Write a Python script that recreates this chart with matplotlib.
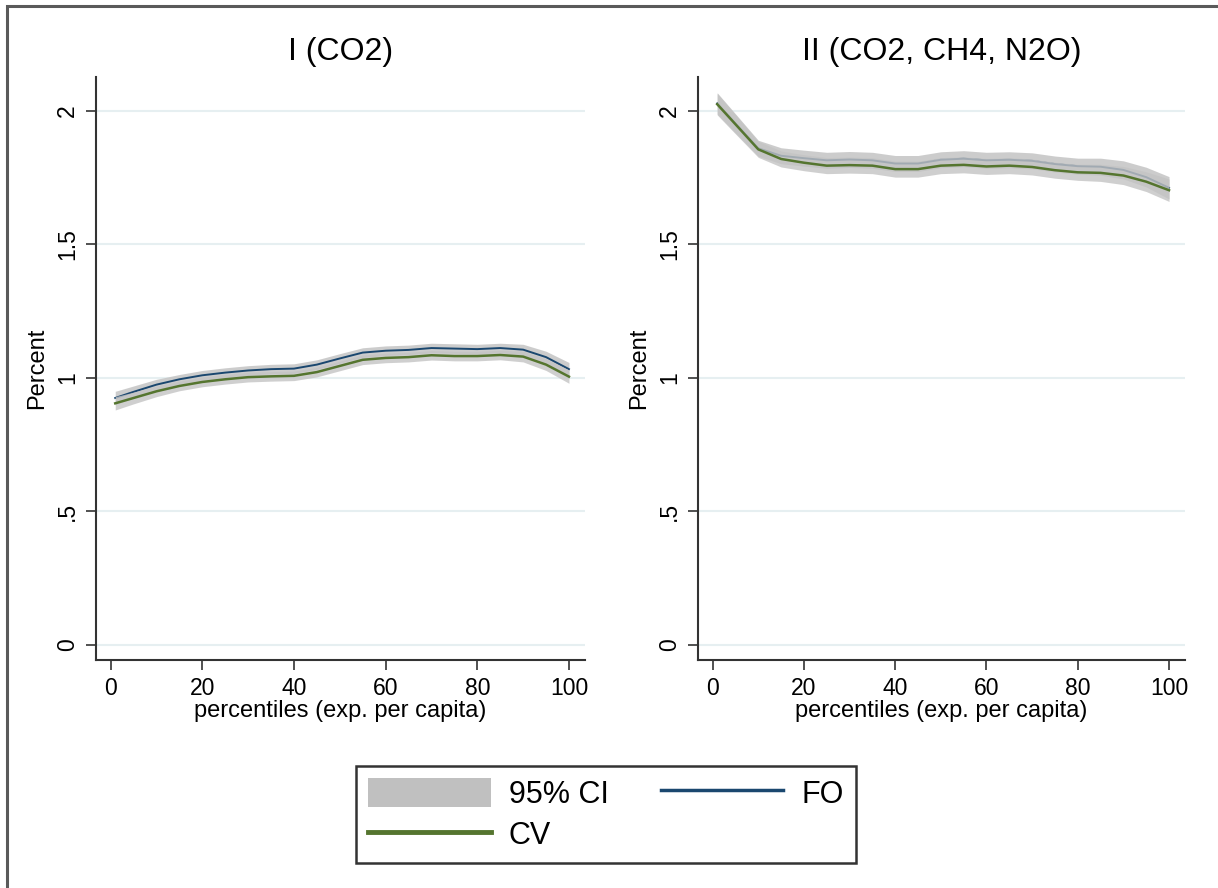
import matplotlib.pyplot as plt
from matplotlib.patches import Rectangle, Patch
from matplotlib.lines import Line2D

plt.rcParams['font.family'] = ['Liberation Sans', 'DejaVu Sans']

pct = [1, 5, 10, 15, 20, 25, 30, 35, 40, 45, 50, 55, 60, 65, 70, 75, 80, 85, 90, 95, 100]

# panel I (CO2)
cv_1 = [0.905, 0.925, 0.950, 0.970, 0.985, 0.995, 1.003, 1.006, 1.008, 1.022, 1.045,
        1.068, 1.075, 1.078, 1.085, 1.082, 1.082, 1.086, 1.080, 1.050, 1.005]
fo_1 = [0.925, 0.948, 0.975, 0.995, 1.010, 1.020, 1.028, 1.033, 1.035, 1.050, 1.073,
        1.095, 1.102, 1.105, 1.112, 1.110, 1.108, 1.112, 1.106, 1.078, 1.033]
ci_1 = [0.025, 0.022, 0.020, 0.018, 0.018, 0.018, 0.018, 0.018, 0.018, 0.018, 0.018,
        0.018, 0.018, 0.018, 0.018, 0.018, 0.018, 0.018, 0.020, 0.022, 0.025]

# panel II (CO2, CH4, N2O)
cv_2 = [2.025, 1.950, 1.856, 1.820, 1.806, 1.795, 1.797, 1.795, 1.782, 1.782, 1.795,
        1.798, 1.792, 1.795, 1.790, 1.778, 1.770, 1.768, 1.758, 1.735, 1.703]
fo_2 = [2.028, 1.953, 1.860, 1.832, 1.823, 1.815, 1.818, 1.815, 1.803, 1.803, 1.817,
        1.821, 1.815, 1.817, 1.813, 1.801, 1.793, 1.791, 1.779, 1.752, 1.712]
ci_2 = [0.040, 0.036, 0.030, 0.030, 0.030, 0.030, 0.030, 0.030, 0.030, 0.030, 0.030,
        0.030, 0.030, 0.030, 0.030, 0.030, 0.030, 0.032, 0.034, 0.037, 0.042]

titles = ["I (CO2)", "II (CO2, CH4, N2O)"]
yticks = [0, 0.5, 1, 1.5, 2]
ylabels = ["0", ".5", "1", "1.5", "2"]

blue = '#1a476f'
green = '#55752f'
band = '#c4c4c4'

fig = plt.figure(figsize=(12.18, 8.88), dpi=100)
fig.patches.append(Rectangle((0.0057, -0.2), 1.2, 1.1932, transform=fig.transFigure,
                             fill=False, edgecolor='#5a5a5a', lw=2.2, zorder=0))

ax1 = fig.add_axes([0.0788, 0.2568, 0.4015, 0.6565])
ax2 = fig.add_axes([0.5731, 0.2568, 0.3998, 0.6565])

for ax, cv, fo, ci, title in [(ax1, cv_1, fo_1, ci_1, titles[0]), (ax2, cv_2, fo_2, ci_2, titles[1])]:
    ax.fill_between(pct, [f - c for f, c in zip(fo, ci)], [f + c for f, c in zip(fo, ci)],
                    color=band, alpha=0.85, lw=0, zorder=2)
    ax.plot(pct, fo, color=blue, lw=1.4, zorder=3)
    ax.fill_between(pct, [v - c for v, c in zip(cv, ci)], [v + c for v, c in zip(cv, ci)],
                    color=band, alpha=0.8, lw=0, zorder=4)
    ax.plot(pct, cv, color=green, lw=1.8, zorder=5)

    ax.set_xlim(-3.2, 103.5)
    ax.set_ylim(-0.056, 2.127)
    ax.set_xticks([0, 20, 40, 60, 80, 100])
    ax.set_yticks(yticks)
    ax.set_yticklabels(ylabels, rotation=90, va='center')
    ax.grid(axis='y', color='#e6eff1', lw=1.5, zorder=1)
    ax.set_axisbelow(True)
    for s in ['top', 'right']:
        ax.spines[s].set_visible(False)
    for s in ['left', 'bottom']:
        ax.spines[s].set_color('#333333')
        ax.spines[s].set_linewidth(1.5)
    ax.tick_params(axis='both', length=7, width=1.2, color='#333333', labelsize=16.5, pad=5)
    ax.set_xlabel("percentiles (exp. per capita)", fontsize=17, labelpad=0)
    ax.set_ylabel("Percent", fontsize=17, labelpad=6)
    ax.set_title(title, fontsize=23, pad=12)

handles = [Patch(facecolor='#c0c0c0', edgecolor='none'),
           Line2D([], [], color=green, lw=3.5),
           Line2D([], [], color=blue, lw=2.5)]
leg = fig.legend(handles, ["95% CI", "CV", "FO"], ncol=2, loc='center',
                 bbox_to_anchor=(0.4975, 0.0828), fontsize=22, frameon=True,
                 fancybox=False, edgecolor='black', handlelength=4.0, handleheight=1.1,
                 columnspacing=1.7, handletextpad=0.6, borderpad=0.4, labelspacing=0.3)
leg.get_frame().set_linewidth(1.8)

fig.savefig("out.png", dpi=100)
